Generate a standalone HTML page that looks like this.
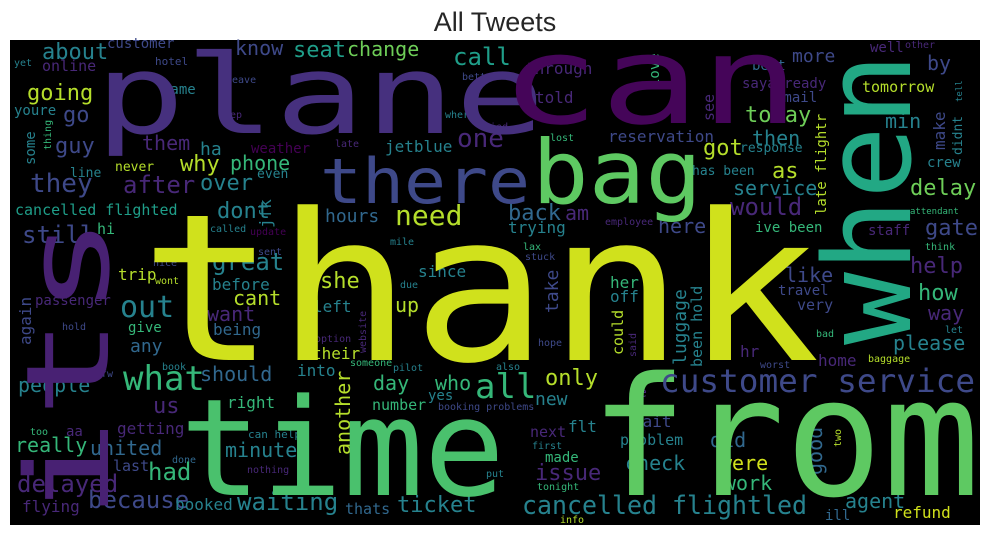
<!DOCTYPE html>
<html><head><meta charset="utf-8"><style>
html,body{margin:0;padding:0;background:#fff;width:989px;height:535px;overflow:hidden}
svg{display:block}
</style></head><body>
<svg id="chart" width="989" height="535" xmlns="http://www.w3.org/2000/svg">
<text x="495" y="31" text-anchor="middle" font-family="'Liberation Sans', sans-serif" font-size="27" fill="#262626">All Tweets</text>
<rect x="10" y="40" width="970" height="485" fill="#000"/>
<g id="words"></g>
</svg>
<script>
// word, x, y (baseline / start), font size, color, rotated(1=vertical), textLength (0=natural)
const P1='#440154',P2='#482878',P3='#46307e',B='#3e4989',B2='#31688e',T='#26828e',T2='#1f9e89',G='#35b779',G2='#6ece58',G3='#5ec962',Y='#b5de2b',Y2='#d0e11c';
const words=['thank','plane','can','its','when','there','bag','from','time','customer service','cancelled flightled','what','all','need','out'];
const wx=[140,95,500,108,910,320,532,590,180,660,522,123,475,395,120];
const wy=[360,133,123,520,345,203,203,495,495,392,514,390,398,225,317];
const ws=[205,110,122,115,120,62,88,165,135,32,26,34,34,28,30];
const wc=[Y2,P3,'#450559','#482173','#22a884',B,G3,G3,'#4ac16d',B,T,G,G,Y,T];
const wr=[0,0,0,1,1,0,0,0,0,0,0,0,0,0,0];
const wl=[680,450,300,305,292,210,170,390,325,315,285,0,0,0,0];
const small=[
['about',42,59,22,T],['customer',107,48,14,B],['know',235,55,20,B],['seat',293,57,22,T2],['yet',14,66,10,T],['hotel',155,65,11,B],
['online',42,71,15,P2],['leave',226,83,10,B],['same',162,94,14,T],['going',27,100,22,Y],['youre',14,115,14,T],['go',63,122,22,B],
['keep',218,118,10,P2],['guy',55,153,22,B],['them',142,150,20,P2],['ha',200,155,18,T],['weather',251,153,14,P1],['phone',230,170,20,G],
['why',180,171,22,Y],['never',115,171,13,Y],['line',70,177,13,T],['even',257,178,13,T],['they',30,192,26,B],['after',123,193,24,P2],
['over',200,190,22,T],['cancelled flighted',15,215,15,T2],['dont',217,218,22,T],['still',22,243,24,B],['hi',97,234,15,G],['called',210,232,10,T],
['update',250,235,10,P1],['sent',258,255,10,B],['great',212,270,24,T],['nice',153,266,10,B],['trip',118,280,16,Y],['wont',155,284,10,Y],
['before',212,290,16,T],['passenger',35,305,14,P2],['hold',62,330,10,B],['give',128,332,14,G],['any',130,352,18,B2],['cant',233,305,20,Y],
['want',207,321,20,P2],['being',213,335,16,B2],['dfw',95,377,10,B],['book',162,370,10,T],['should',200,381,20,B2],['people',18,392,20,T],
['us',153,413,22,P2],['right',227,408,16,G],['too',30,435,10,G],['aa',66,436,14,P2],['getting',117,434,16,P2],['really',15,452,20,G],
['united',90,455,20,B2],['can help',248,438,11,T],['minute',225,457,20,T],['last',113,471,15,B],['done',172,463,10,B2],['nothing',247,473,10,P2],
['had',148,480,24,G],['delayed',17,492,24,P2],['because',88,508,24,B],['booked',175,510,16,T],['waiting',237,510,24,T],['flying',22,512,16,P2],
['hours',325,222,18,B2],['back',508,220,22,B2],['am',565,220,20,P2],['trying',508,233,16,T],['employee',605,225,10,P2],['here',658,233,20,B],
['mile',390,245,10,T],['lax',523,250,10,G],['stuck',525,260,10,B],['since',418,277,16,T],['due',400,288,10,T],['she',320,288,22,Y],
['her',610,288,16,G],['off',610,302,16,T],['left',313,312,16,T],['up',395,312,20,Y],['option',315,342,10,P2],['hope',538,346,10,B],
['their',312,359,16,Y],['someone',350,366,10,G],['pilot',393,371,10,T],['also',496,370,10,T],['into',297,376,16,T],['day',373,390,20,G],
['who',435,390,20,G],['only',545,385,22,Y],['new',535,405,18,T],['he',630,397,14,P2],['yes',428,400,14,T],['number',372,410,15,G],
['booking problems',438,410,10,B],['wait',633,427,16,B],['next',530,437,15,P2],['flt',568,432,16,T],['problem',620,445,15,T],['first',532,449,10,T],
['made',545,462,14,G],['check',625,470,20,T],['issue',535,480,22,P2],['put',486,477,10,T],['tonight',537,490,10,G],['ticket',397,512,22,T],
['thats',345,514,15,B2],['info',560,523,10,Y],['change',347,56,20,G2],['call',453,65,24,T2],['through',525,74,16,P2],['better',462,80,10,B],
['told',535,103,16,P2],['where',445,118,10,T],['tried',478,130,10,P2],['lost',550,141,10,G],['one',457,147,26,P2],['reservation',608,142,16,B],
['late',335,147,10,P2],['jetblue',385,152,16,T],['more',792,62,18,B],['by',927,70,20,B],['best',752,70,14,B2],['sayalready',742,88,14,P2],
['email',775,102,14,B],['tomorrow',862,92,15,Y],['today',745,122,22,G2],['min',885,128,20,T],['then',752,145,20,T],['got',703,155,22,Y],
['response',740,152,13,T],['has been',692,175,13,T],['as',772,178,22,Y],['service',733,195,20,T],['delay',910,195,22,G2],['would',730,215,24,P2],
['ive been',755,232,14,G],['staff',868,235,14,P2],['gate',925,235,22,B],['attendant',910,214,9,G],['crew',927,167,14,T],['well',870,52,14,P2],['other',905,48,10,P2],
['help',910,273,22,P2],['think',925,250,10,G],['like',785,282,20,B],['travel',778,295,14,B],['how',918,300,22,G],['very',797,310,15,B],
['way',928,320,20,P2],['let',945,333,10,T],['bad',816,337,10,G],['please',893,350,20,T],['hr',740,357,16,P2],['home',818,366,16,P2],
['baggage',868,362,10,Y],['worst',760,368,10,B],['did',710,447,20,B2],['were',720,470,20,Y2],['work',724,490,20,G],['agent',845,508,20,T],
['ill',825,520,14,B2],['refund',893,518,16,Y2]];
// vertical small words: word, baseline x, start y (bottom), size, color
const vert=[['again',31,345,16,B],['some',35,165,14,T],['thing',51,150,10,G],['jfk',271,228,16,T],['see',714,121,15,P2],['late flightr',826,215,14,Y],
['make',945,150,16,B],['didnt',962,155,13,T],['tell',962,102,9,T],['take',558,313,18,B],['luggage',686,365,18,T],['could',623,355,15,Y],
['said',636,357,10,P2],['website',366,353,10,P2],['another',350,455,20,Y],['been hold',702,367,15,T],['good',822,475,20,B2],['two',841,447,10,Y],['love',659,87,14,G]];
const g=document.getElementById('words');
const NS='http://www.w3.org/2000/svg';
function mk(w,x,y,s,c,r,len){
  const t=document.createElementNS(NS,'text');
  t.setAttribute('x',x);t.setAttribute('y',y);
  t.setAttribute('font-size',s);t.setAttribute('fill',c);
  t.setAttribute('font-family',"'DejaVu Sans Mono', 'Liberation Mono', monospace");
  if(len){t.setAttribute('textLength',len);t.setAttribute('lengthAdjust','spacingAndGlyphs');}
  if(r)t.setAttribute('transform','rotate(-90 '+x+' '+y+')');
  
  
  t.textContent=w;g.appendChild(t);
}
small.forEach(d=>mk(d[0],d[1],d[2],d[3],d[4],0,0));
vert.forEach(d=>mk(d[0],d[1],d[2],d[3],d[4],1,0));
for(let i=0;i<words.length;i++)mk(words[i],wx[i],wy[i],ws[i],wc[i],wr[i],wl[i]);
</script>
</body></html>
